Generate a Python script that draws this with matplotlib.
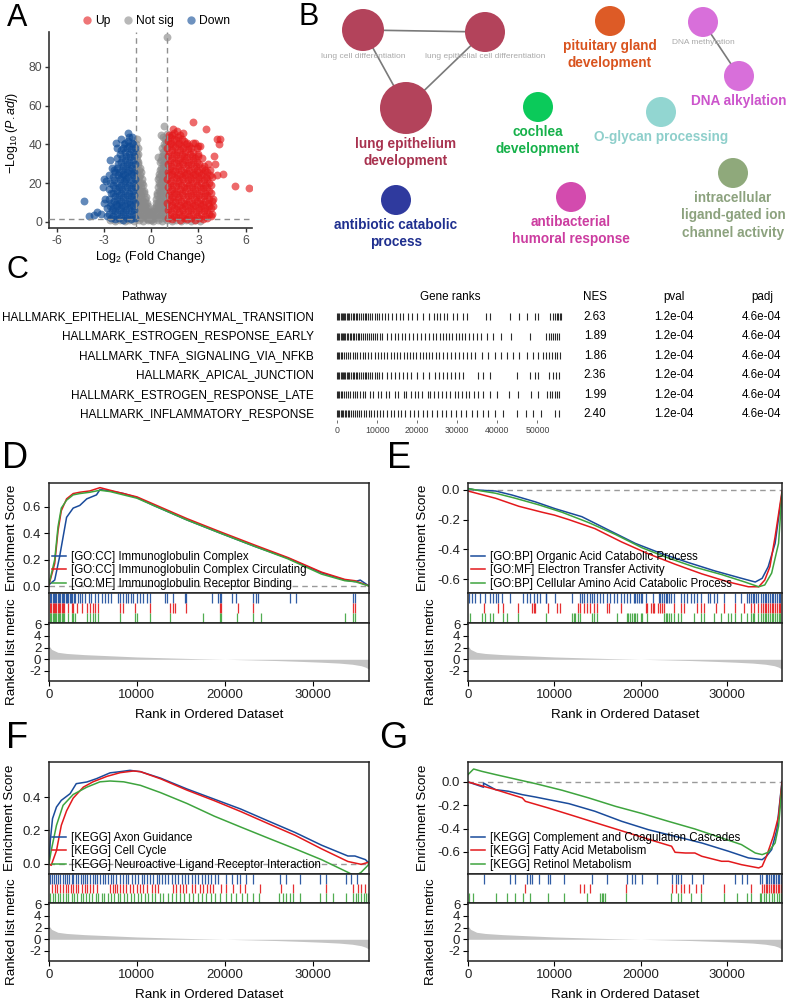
import numpy as np
import matplotlib.pyplot as plt
from matplotlib.patches import Circle
from matplotlib.lines import Line2D
from matplotlib.ticker import FuncFormatter, FormatStrFormatter

plt.rcParams['font.family'] = ['Liberation Sans', 'DejaVu Sans']
plt.rcParams['axes.unicode_minus'] = False
plt.rcParams['mathtext.fontset'] = 'custom'
plt.rcParams['mathtext.rm'] = 'Liberation Sans'
plt.rcParams['mathtext.it'] = 'Liberation Sans:italic'
plt.rcParams['mathtext.bf'] = 'Liberation Sans:bold'

# ---------------- A: volcano (log2FC, -log10 padj) ----------------
up_pts = [(1.05, 2), (1.08, 6), (1.03, 10), (1.1, 14), (1.05, 18), (1.02, 22), (1.07, 26), (1.04, 30), (1.09, 34), (1.03, 38), (1.06, 42), (1.1, 45),
          (1.3, 1.5), (1.27, 5), (1.33, 9), (1.29, 13), (1.32, 17), (1.26, 21), (1.31, 25), (1.28, 29), (1.34, 33), (1.3, 37), (1.25, 41), (1.33, 45), (1.4, 48),
          (1.55, 2.5), (1.58, 6.5), (1.52, 10.5), (1.57, 14.5), (1.54, 18.5), (1.59, 22.5), (1.53, 26.5), (1.56, 30.5), (1.6, 34.5), (1.52, 38.5), (1.57, 42.5), (1.62, 47),
          (1.8, 1), (1.77, 5), (1.83, 9), (1.79, 13), (1.84, 17), (1.76, 21), (1.81, 25), (1.78, 29), (1.85, 33), (1.8, 37), (1.75, 41), (1.82, 45),
          (2.05, 2), (2.02, 6), (2.08, 10), (2.04, 14), (2.07, 18), (2.01, 22), (2.06, 26), (2.03, 30), (2.09, 34), (2.02, 38), (2.05, 42), (2.0, 46),
          (2.3, 1.5), (2.33, 5.5), (2.27, 9.5), (2.32, 13.5), (2.28, 17.5), (2.34, 21.5), (2.29, 25.5), (2.31, 29.5), (2.26, 33.5), (2.33, 37.5), (2.3, 41),
          (2.55, 2), (2.52, 6), (2.58, 10), (2.54, 14), (2.57, 18), (2.51, 22), (2.56, 26), (2.53, 30), (2.59, 34), (2.52, 38), (2.62, 41), (2.65, 51.5),
          (2.8, 1), (2.83, 5), (2.77, 9), (2.82, 13), (2.78, 17), (2.84, 21), (2.79, 25), (2.81, 29), (2.76, 33), (2.88, 38), (2.95, 39), (2.8, 41),
          (3.05, 2), (3.02, 6), (3.08, 10), (3.04, 14), (3.07, 18), (3.01, 22), (3.06, 26), (3.03, 30), (3.0, 34), (3.1, 39), (3.2, 33),
          (3.3, 1.5), (3.33, 5.5), (3.27, 9.5), (3.32, 13.5), (3.28, 17.5), (3.34, 21.5), (3.29, 25.5), (3.35, 29),
          (3.55, 2), (3.52, 6), (3.58, 10), (3.54, 14), (3.57, 18), (3.51, 22), (3.56, 26), (3.6, 30),
          (3.8, 3), (3.78, 7), (3.83, 11), (3.79, 15), (3.82, 19), (3.85, 23), (3.75, 27),
          (4.0, 34), (4.05, 30), (4.2, 43), (4.35, 43), (4.3, 40), (4.55, 25), (4.2, 24), (5.35, 18.5), (6.2, 17.5),
          (3.9, 12), (3.95, 8), (3.85, 4), (3.5, 48),
          (1.17, 4), (1.15, 8), (1.19, 12), (1.16, 16), (1.18, 20), (1.14, 24), (1.2, 28), (1.17, 32), (1.15, 36), (1.19, 40), (1.16, 44),
          (1.42, 3), (1.44, 7), (1.4, 11), (1.43, 15), (1.41, 19), (1.45, 23), (1.39, 27), (1.42, 31), (1.44, 35), (1.4, 39), (1.43, 43), (1.46, 46),
          (1.67, 4), (1.65, 8), (1.69, 12), (1.66, 16), (1.68, 20), (1.64, 24), (1.7, 28), (1.67, 32), (1.65, 36), (1.69, 40), (1.7, 44),
          (1.92, 3), (1.94, 7), (1.9, 11), (1.93, 15), (1.91, 19), (1.95, 23), (1.89, 27), (1.92, 31), (1.94, 35), (1.9, 39), (1.93, 43),
          (2.17, 4), (2.15, 8), (2.19, 12), (2.16, 16), (2.18, 20), (2.14, 24), (2.2, 28), (2.17, 32), (2.15, 36), (2.19, 40),
          (2.42, 3), (2.44, 7), (2.4, 11), (2.43, 15), (2.41, 19), (2.45, 23), (2.39, 27), (2.42, 31), (2.44, 35), (2.4, 39),
          (2.67, 4), (2.65, 8), (2.69, 12), (2.66, 16), (2.68, 20), (2.64, 24), (2.7, 28), (2.67, 32), (2.65, 36),
          (2.92, 3), (2.94, 7), (2.9, 11), (2.93, 15), (2.91, 19), (2.95, 23), (2.89, 27), (2.92, 31), (2.94, 35),
          (3.17, 4), (3.15, 8), (3.19, 12), (3.16, 16), (3.18, 20), (3.14, 24), (3.2, 28),
          (3.42, 3), (3.44, 7), (3.4, 11), (3.43, 15), (3.41, 19), (3.45, 23), (3.42, 27),
          (3.67, 4), (3.65, 8), (3.69, 12), (3.66, 16), (3.68, 20), (3.7, 24)]

down_pts = [(-1.05, 2), (-1.08, 6), (-1.03, 10), (-1.1, 14), (-1.05, 18), (-1.02, 22), (-1.07, 26), (-1.04, 30), (-1.09, 34), (-1.05, 38),
            (-1.3, 1.5), (-1.27, 5.5), (-1.33, 9.5), (-1.29, 13.5), (-1.32, 17.5), (-1.26, 21.5), (-1.31, 25.5), (-1.28, 29.5), (-1.34, 33.5), (-1.3, 37.5), (-1.25, 41), (-1.4, 44),
            (-1.55, 2), (-1.58, 6), (-1.52, 10), (-1.57, 14), (-1.54, 18), (-1.59, 22), (-1.53, 26), (-1.56, 30), (-1.6, 34), (-1.52, 38), (-1.5, 46),
            (-1.8, 1), (-1.77, 5), (-1.83, 9), (-1.79, 13), (-1.84, 17), (-1.76, 21), (-1.81, 25), (-1.78, 29), (-1.85, 33), (-1.8, 38), (-1.9, 43),
            (-2.05, 2), (-2.02, 6), (-2.08, 10), (-2.04, 14), (-2.07, 18), (-2.01, 22), (-2.06, 26), (-2.1, 30), (-2.0, 35),
            (-2.3, 1.5), (-2.33, 5.5), (-2.27, 9.5), (-2.32, 13.5), (-2.28, 17.5), (-2.34, 21.5), (-2.29, 26), (-2.25, 41), (-2.2, 38),
            (-2.55, 2), (-2.52, 6), (-2.58, 10), (-2.54, 15), (-2.6, 20), (-2.5, 28), (-2.65, 32),
            (-2.8, 3), (-2.83, 7), (-2.9, 21), (-3.0, 22), (-2.95, 12), (-3.05, 18),
            (-4.3, 11), (-3.95, 3), (-3.45, 5), (-3.65, 3.5), (-3.0, 10), (-3.2, 4), (-2.7, 24), (-1.2, 44), (-1.75, 40),
            (-1.17, 4), (-1.15, 8), (-1.19, 12), (-1.16, 16), (-1.18, 20), (-1.14, 24), (-1.2, 28), (-1.17, 32), (-1.15, 36), (-1.19, 40),
            (-1.42, 3), (-1.44, 7), (-1.4, 11), (-1.43, 15), (-1.41, 19), (-1.45, 23), (-1.39, 27), (-1.42, 31), (-1.44, 35), (-1.4, 39), (-1.45, 42),
            (-1.67, 4), (-1.65, 8), (-1.69, 12), (-1.66, 16), (-1.68, 20), (-1.64, 24), (-1.7, 28), (-1.67, 32), (-1.65, 36), (-1.69, 41),
            (-1.92, 3), (-1.94, 7), (-1.9, 11), (-1.93, 15), (-1.91, 19), (-1.95, 23), (-1.89, 27), (-1.92, 31), (-1.94, 37),
            (-2.17, 4), (-2.15, 8), (-2.19, 12), (-2.16, 16), (-2.18, 20), (-2.14, 24), (-2.2, 28), (-2.17, 33),
            (-2.42, 3), (-2.44, 7), (-2.4, 11), (-2.43, 15), (-2.41, 19), (-2.45, 23), (-2.39, 27),
            (-2.67, 4), (-2.65, 8), (-2.69, 12), (-2.7, 17)]

ns_pts = [(-2.6, 0.8), (-2.3, 0.4), (-2.0, 1.0), (-1.7, 0.5), (-1.4, 0.9), (-1.1, 0.3), (-0.8, 0.8), (-0.5, 0.4), (-0.2, 0.9),
          (0.1, 0.4), (0.4, 0.8), (0.7, 0.3), (1.0, 0.9), (1.3, 0.4), (1.6, 0.8), (1.9, 0.3), (2.2, 0.9), (2.5, 0.5), (2.8, 0.8), (3.1, 0.4),
          (-0.95, 4), (-0.92, 8), (-0.97, 12), (-0.93, 16), (-0.96, 20), (-0.91, 24), (-0.95, 28), (-0.92, 32), (-0.97, 36), (-0.94, 40), (-0.9, 43),
          (-0.8, 3), (-0.78, 7), (-0.82, 11), (-0.79, 15), (-0.83, 19), (-0.77, 23), (-0.8, 27), (-0.84, 31), (-0.86, 35),
          (-0.65, 2), (-0.63, 6), (-0.67, 10), (-0.64, 14), (-0.66, 18), (-0.62, 22), (-0.68, 26),
          (-0.5, 3), (-0.48, 7), (-0.52, 11), (-0.49, 15), (-0.53, 19),
          (-0.35, 2), (-0.33, 6), (-0.37, 10), (-0.36, 13), (-0.2, 1.5), (-0.18, 5), (-0.22, 8),
          (-0.05, 1), (0.0, 3.5), (0.1, 2), (0.12, 5.5), (0.25, 2.5), (0.23, 6.5), (0.27, 10),
          (0.4, 2), (0.38, 6), (0.42, 10), (0.39, 14), (0.41, 18), (0.4, 22), (0.42, 33.7),
          (0.55, 3), (0.53, 7), (0.57, 11), (0.54, 15), (0.56, 19), (0.52, 23), (0.55, 27), (0.57, 31),
          (0.7, 2), (0.68, 6), (0.72, 10), (0.69, 14), (0.71, 18), (0.67, 22), (0.7, 26), (0.72, 30), (0.68, 34), (0.71, 38), (0.62, 45),
          (0.85, 3), (0.83, 7), (0.87, 11), (0.84, 15), (0.86, 19), (0.82, 23), (0.85, 27), (0.88, 31), (0.83, 35), (0.86, 39), (0.84, 43), (0.79, 49.6),
          (0.93, 6), (0.94, 14), (0.92, 22), (0.93, 34), (0.94, 42), (0.97, 45.5), (0.98, 95.5),
          (-0.88, 2), (-0.87, 6), (-0.89, 10), (-0.86, 14), (-0.88, 18), (-0.87, 22), (-0.89, 26), (-0.86, 30), (-0.88, 34), (-0.87, 38),
          (-0.72, 4), (-0.71, 8), (-0.73, 12), (-0.7, 16), (-0.72, 20), (-0.71, 24), (-0.74, 28),
          (-0.57, 4), (-0.58, 8), (-0.56, 12), (-0.59, 16), (-0.57, 20),
          (-0.42, 4), (-0.43, 8), (-0.41, 12), (-0.44, 16), (-0.27, 3), (-0.28, 7), (-0.26, 10),
          (-0.12, 2), (-0.13, 5), (0.03, 1.5), (0.05, 5), (0.18, 3), (0.19, 7),
          (0.32, 4), (0.33, 8), (0.31, 12), (0.34, 15), (0.47, 4), (0.48, 8), (0.46, 12), (0.49, 16), (0.47, 20), (0.48, 25),
          (0.62, 4), (0.63, 8), (0.61, 12), (0.64, 16), (0.62, 20), (0.63, 24), (0.61, 28), (0.64, 32),
          (0.77, 4), (0.78, 8), (0.76, 12), (0.79, 16), (0.77, 20), (0.78, 24), (0.76, 28), (0.79, 32), (0.77, 36), (0.78, 40), (0.76, 44),
          (0.9, 2), (0.91, 10), (0.9, 18), (0.91, 26), (0.9, 30), (0.91, 38)]

# ---------------- B: GO network ----------------
go_terms = ['lung cell differentiation', 'lung epithelial cell differentiation', 'lung epithelium\ndevelopment',
            'pituitary gland\ndevelopment', 'DNA methylation', 'DNA alkylation', 'cochlea\ndevelopment',
            'O-glycan processing', 'antibiotic catabolic\nprocess', 'antibacterial\nhumoral response',
            'intracellular\nligand-gated ion\nchannel activity']
go_x = [363, 485, 406, 610, 703, 739, 538, 661, 396, 571, 733]
go_y = [30, 32, 108, 21, 22, 76, 107, 112, 200, 197, 173]
go_r = [21, 20, 26, 15, 15, 15, 15, 15, 15, 15, 15]
go_main = [False, False, True, True, False, True, True, True, True, True, True]
go_edges = [(0, 1), (0, 2), (1, 2), (4, 5)]
go_node_col = ['#b3435b', '#b3435b', '#b3435b', '#dd5b26', '#d86fda', '#d86fda', '#0bca5a', '#92d6d1',
               '#2f3a9e', '#d34bae', '#8fa97b']
go_text_col = ['#a9a9a9', '#a9a9a9', '#a8324f', '#d9531e', '#a9a9a9', '#cc55cc', '#16b14a', '#8ecfcb',
               '#1f2f8f', '#cc3da0', '#8ca27e']

# ---------------- C: hallmark table ----------------
hallmark = ['HALLMARK_EPITHELIAL_MESENCHYMAL_TRANSITION', 'HALLMARK_ESTROGEN_RESPONSE_EARLY',
            'HALLMARK_TNFA_SIGNALING_VIA_NFKB', 'HALLMARK_APICAL_JUNCTION',
            'HALLMARK_ESTROGEN_RESPONSE_LATE', 'HALLMARK_INFLAMMATORY_RESPONSE']
nes = [2.63, 1.89, 1.86, 2.36, 1.99, 2.40]
pval = [1.2e-04] * 6
padj = [4.6e-04] * 6
# gene positions in ranked list (thousands)
ranks_emt = [0.05, 0.3, 0.6, 0.9, 1.2, 1.5, 1.8, 2.1, 2.4, 2.8, 3.1, 3.5, 3.9, 4.3, 4.7, 5.1, 5.5, 6.0, 6.4, 6.9, 7.3, 7.8,
             8.3, 8.8, 9.4, 10.0, 10.6, 11.2, 12.0, 12.8, 13.7, 14.6, 15.6, 16.5, 17.6, 18.8, 20.0, 21.5, 23.0,
             24.2, 25.0, 25.8, 26.7, 27.5, 29.0, 30.0, 31.5, 32.5, 37.3, 38.2, 43.2, 45.3, 47.3, 49.3, 50.2,
             53.2, 53.8, 54.3, 54.8, 55.2, 55.6, 56.0]
ranks_er_early = [0.05, 0.3, 0.6, 0.9, 1.2, 1.5, 1.8, 2.1, 2.5, 2.8, 3.2, 3.5, 3.9, 4.3, 4.8, 5.2, 5.6, 6.1, 6.5, 7.0, 7.4,
                  7.9, 8.4, 8.9, 9.5, 10.1, 10.7, 11.3, 12.5, 13.5, 14.5, 15.3, 16.2, 17.0, 18.0, 19.0, 20.0, 21.0,
                  22.0, 23.0, 24.0, 24.8, 25.6, 26.4, 27.2, 28.0, 28.8, 29.6, 30.4, 31.2, 32.0, 33.0, 34.0, 35.0,
                  36.0, 37.5, 39.0, 41.0, 43.3, 48.2, 52.2, 52.8, 53.4, 54.0, 54.5, 55.0, 55.5]
ranks_tnfa = [0.05, 0.3, 0.6, 0.9, 1.3, 1.7, 2.2, 2.7, 3.3, 3.9, 4.5, 5.1, 5.7, 6.4, 7.0, 7.8, 8.6, 9.4, 10.2, 11.0,
              11.8, 12.6, 13.4, 14.2, 15.0, 15.8, 16.6, 17.4, 18.2, 19.0, 19.8, 20.6, 21.4, 22.2, 23.0, 23.8, 24.6,
              25.4, 26.5, 27.5, 28.5, 29.5, 30.5, 31.5, 32.5, 33.5, 34.5, 36.3, 37.8, 39.5, 41.0, 42.5, 44.0, 45.5,
              47.5, 49.0, 50.2, 51.5, 52.2, 52.9, 53.6, 54.3, 55.0, 55.6]
ranks_apical = [0.05, 0.3, 0.6, 0.9, 1.2, 1.5, 1.8, 2.1, 2.4, 2.8, 3.1, 3.5, 3.9, 4.3, 4.7, 5.1, 5.5, 6.0, 6.4, 6.9, 7.3,
                7.8, 8.3, 8.8, 9.4, 10.0, 10.6, 11.2, 12.5, 13.5, 14.5, 15.5, 16.5, 17.5, 18.5, 20.0, 21.5, 23.0,
                24.5, 25.5, 26.5, 27.5, 28.5, 29.5, 30.5, 31.5, 35.2, 36.5, 38.3, 45.0, 48.2, 49.3, 50.2, 53.0,
                53.8, 54.6, 55.4]
ranks_er_late = [0.05, 0.3, 0.6, 0.9, 1.3, 1.7, 2.2, 2.7, 3.3, 3.9, 4.5, 5.1, 5.7, 6.4, 7.0, 8.2, 9.1, 10.3, 11.0, 12.2,
                 13.1, 14.4, 15.2, 16.6, 17.3, 18.5, 19.4, 20.2, 21.3, 22.6, 23.3, 24.1, 25.2, 26.3, 27.1, 28.2, 29.4,
                 30.1, 31.2, 32.3, 33.0, 34.2, 35.1, 36.4, 38.2, 40.0, 43.0, 45.1, 48.3, 50.1, 52.5, 53.1, 53.7,
                 54.3, 54.9, 55.5]
ranks_inflam = [0.05, 0.3, 0.6, 0.9, 1.2, 1.5, 1.9, 2.3, 2.7, 3.1, 3.5, 4.0, 4.5, 5.0, 5.5, 6.1, 6.7, 7.3, 7.9, 8.6,
                9.3, 10.0, 10.8, 11.6, 12.5, 13.4, 14.3, 15.1, 16.0, 17.0, 18.1, 19.2, 20.3, 21.4, 22.5, 23.7, 24.9,
                26.1, 27.3, 28.5, 29.8, 31.0, 32.3, 33.6, 35.0, 36.4, 37.8, 39.4, 41.5, 45.0, 47.2, 49.0, 51.0,
                54.5, 55.3]
hallmark_ranks = [ranks_emt, ranks_er_early, ranks_tnfa, ranks_apical, ranks_er_late, ranks_inflam]

# ---------------- D-G: GSEA (rank in thousands) ----------------
metric_rank = [0, 0.3, 1, 2, 4, 7, 10, 14, 17, 20, 23, 26, 29, 31, 33, 34.5, 35.5, 36.0, 36.4]
metric_val = [2.3, 1.7, 1.2, 1.0, 0.8, 0.6, 0.4, 0.22, 0.1, 0.0, -0.1, -0.22, -0.38, -0.5, -0.65, -0.85, -1.1, -1.35, -1.7]

d_names = ['[GO:CC] Immunoglobulin Complex', '[GO:CC] Immunoglobulin Complex Circulating',
           '[GO:MF] Immunoglobulin Receptor Binding']
d_blue_x = [0, 0.65, 1.2, 1.6, 2.0, 2.75, 3.5, 4.3, 5.4, 5.8, 6.95, 8.5, 10.0, 11.9, 15.7, 19.5, 23.4, 27.2, 31.0, 33.65, 34.8, 35.4, 36.4]
d_blue_y = [0.01, 0.045, 0.22, 0.37, 0.52, 0.59, 0.61, 0.66, 0.69, 0.73, 0.72, 0.70, 0.67, 0.61, 0.50, 0.40, 0.30, 0.21, 0.10, 0.045, 0.033, 0.045, 0.0]
d_red_x = [0, 0.65, 1.03, 1.4, 2.0, 2.75, 3.5, 4.65, 5.8, 6.95, 10.0, 15.7, 19.5, 23.4, 27.2, 31.0, 33.65, 34.8, 36.4]
d_red_y = [0.01, 0.17, 0.42, 0.57, 0.66, 0.70, 0.71, 0.72, 0.745, 0.725, 0.675, 0.51, 0.41, 0.31, 0.215, 0.105, 0.05, 0.04, 0.0]
d_green_x = [0, 0.65, 1.03, 1.4, 2.0, 2.75, 3.5, 4.65, 5.8, 6.95, 10.0, 15.7, 19.5, 23.4, 27.2, 31.0, 33.65, 34.8, 36.4]
d_green_y = [0.015, 0.2, 0.45, 0.59, 0.65, 0.69, 0.70, 0.71, 0.725, 0.715, 0.665, 0.50, 0.40, 0.30, 0.205, 0.09, 0.04, 0.033, 0.0]
d_hits_blue = [0.1, 0.25, 0.4, 0.55, 0.7, 0.85, 1.0, 1.15, 1.3, 1.45, 1.6, 1.75, 1.9, 2.05, 2.2, 2.35, 2.5, 2.65, 2.8, 2.95,
               3.3, 3.5, 3.8, 4.1, 4.5, 4.8, 5.2, 5.6, 6.0, 6.4, 6.7, 7.1, 7.9, 8.1, 8.4, 8.75, 9.0, 9.3, 9.6, 10.0,
               10.3, 10.7, 11.1, 11.5, 13.2, 13.4, 14.1, 15.5, 15.6, 18.5, 19.2, 19.4, 19.6, 20.8, 21.3, 23.2, 23.6,
               23.8, 27.4, 28.1, 34.6, 34.8]
d_hits_red = [0.1, 0.25, 0.4, 0.55, 0.7, 0.85, 1.0, 1.15, 1.3, 1.45, 1.6, 1.75, 2.2, 2.58, 2.77, 3.14, 3.71, 4.28, 4.66,
              4.96, 5.23, 5.6, 8.07, 8.45, 9.77, 11.48, 13.75, 14.13, 14.32, 15.64, 19.43, 19.62, 21.5, 23.2, 34.6, 34.8]
d_hits_green = [0.1, 0.25, 0.4, 0.55, 0.7, 0.85, 1.0, 1.15, 1.3, 1.45, 1.6, 1.75, 2.2, 2.58, 2.77, 2.96, 4.28, 4.66,
                5.04, 5.23, 5.6, 8.07, 9.77, 9.96, 11.48, 13.75, 17.54, 19.43, 19.62, 21.33, 23.22, 24.17, 33.64, 34.6, 34.8]

e_names = ['[GO:BP] Organic Acid Catabolic Process', '[GO:MF] Electron Transfer Activity',
           '[GO:BP] Cellular Amino Acid Catabolic Process']
e_blue_x = [0, 0.85, 3.2, 5.1, 7.8, 10.1, 13.2, 16.3, 19.4, 22.5, 25.6, 28.6, 31.7, 33.3, 34.1, 34.8, 35.6, 36.4]
e_blue_y = [0.01, 0.0, -0.007, -0.034, -0.08, -0.126, -0.18, -0.27, -0.36, -0.43, -0.49, -0.545, -0.595, -0.62, -0.595, -0.517, -0.36, -0.02]
e_red_x = [0, 3.2, 5.9, 8.6, 10.0, 11.7, 14.7, 17.8, 20.9, 24.0, 27.1, 30.2, 32.5, 33.7, 34.4, 35.0, 35.6, 36.4]
e_red_y = [-0.007, -0.056, -0.11, -0.15, -0.169, -0.2, -0.26, -0.35, -0.43, -0.50, -0.565, -0.62, -0.652, -0.652, -0.607, -0.517, -0.315, -0.01]
e_green_x = [0, 1.6, 3.2, 5.5, 8.2, 10.9, 14.0, 17.1, 20.2, 23.3, 26.3, 29.4, 32.1, 33.7, 34.4, 35.2, 36.0, 36.4]
e_green_y = [0.01, -0.007, -0.022, -0.056, -0.10, -0.15, -0.22, -0.30, -0.39, -0.46, -0.52, -0.57, -0.62, -0.652, -0.64, -0.56, -0.36, -0.02]
e_hits_blue = [0.16, 0.43, 0.81, 1.4, 2.0, 2.6, 2.9, 3.3, 3.5, 3.9, 4.9, 6.4, 6.8, 7.2, 7.6, 8.0, 8.4, 9.0, 9.1, 10.1,
               12.1, 13.0, 13.2, 13.4, 13.8, 14.2, 14.4, 14.6, 15.0, 15.3, 15.7, 16.1, 16.5, 16.9, 17.3, 17.7, 18.1,
               18.4, 18.8, 19.2, 19.4, 19.6, 19.8, 20.0, 20.2, 20.6, 21.4, 22.1, 22.3, 22.5, 22.7, 22.9, 23.1, 23.3,
               23.5, 23.9, 24.7, 25.0, 25.4, 25.8, 26.2, 26.6, 27.0, 27.8, 28.1, 28.5, 28.9, 29.7, 30.9, 31.6, 32.4,
               32.6, 32.8, 33.0, 33.2, 33.4, 33.6, 34.0, 34.2, 34.4, 34.6, 34.8, 35.0, 35.2, 35.4, 35.6, 35.8, 36.0,
               36.2, 36.35]
e_hits_red = [1.8, 3.5, 4.1, 5.8, 7.4, 7.6, 7.8, 9.3, 10.3, 10.7, 12.8, 13.0, 13.4, 13.8, 14.2, 14.6, 15.0, 16.1, 16.3,
              17.7, 20.6, 20.8, 21.2, 21.4, 21.6, 22.0, 22.3, 22.5, 22.7, 23.9, 24.7, 25.0, 26.6, 27.0, 27.4, 28.7,
              29.7, 30.9, 32.0, 32.8, 33.2, 33.6, 34.0, 34.2, 34.4, 34.6, 34.8, 35.0, 35.2, 35.4, 35.6, 35.8, 36.0,
              36.2, 36.35]
e_hits_green = [0.23, 1.6, 2.0, 2.6, 2.9, 4.1, 4.5, 5.8, 9.0, 12.1, 12.3, 12.4, 12.8, 13.0, 14.4, 14.6, 15.0, 17.3, 18.4,
                18.6, 18.8, 19.0, 19.2, 19.4, 19.6, 20.0, 20.2, 20.8, 22.7, 22.9, 23.1, 23.3, 23.5, 23.9, 24.3, 24.7,
                26.2, 27.0, 27.4, 28.5, 29.3, 30.1, 30.5, 30.9, 31.6, 32.4, 32.8, 33.0, 33.2, 33.6, 34.0, 34.2, 34.4,
                34.6, 34.8, 35.0, 35.2, 35.4, 35.6, 35.8, 36.0, 36.2, 36.35]

f_names = ['[KEGG] Axon Guidance', '[KEGG] Cell Cycle', '[KEGG] Neuroactive Ligand Receptor Interaction']
f_blue_x = [0, 0.15, 0.4, 0.85, 1.4, 2.4, 3.1, 4.3, 5.4, 6.95, 8.1, 9.2, 10.4, 12.7, 15.7, 18.8, 21.8, 24.9, 28.0, 31.0, 34.0, 34.8, 36.0, 36.4]
f_blue_y = [0.0, 0.14, 0.27, 0.34, 0.38, 0.42, 0.48, 0.49, 0.51, 0.545, 0.552, 0.56, 0.552, 0.513, 0.448, 0.387, 0.328, 0.257, 0.187, 0.111, 0.046, 0.046, 0.024, 0.002]
f_red_x = [0, 0.25, 0.85, 1.4, 2.0, 2.75, 3.9, 5.0, 6.6, 8.1, 9.6, 10.4, 12.7, 15.7, 18.8, 21.8, 24.9, 28.0, 31.0, 34.0, 35.5, 36.4]
f_red_y = [0.0, -0.01, 0.078, 0.23, 0.317, 0.393, 0.459, 0.491, 0.524, 0.546, 0.556, 0.552, 0.509, 0.441, 0.378, 0.313, 0.241, 0.17, 0.089, 0.013, -0.004, 0.009]
f_green_x = [0, 0.25, 0.85, 1.6, 2.75, 4.3, 5.8, 6.95, 8.5, 10.4, 12.7, 15.7, 18.8, 21.8, 24.9, 28.0, 31.0, 34.0, 34.8, 35.5, 36.3, 36.4]
f_green_y = [0.0, 0.078, 0.23, 0.35, 0.415, 0.459, 0.491, 0.496, 0.491, 0.47, 0.426, 0.361, 0.285, 0.22, 0.154, 0.089, 0.024, -0.052, -0.074, -0.052, -0.009, 0.009]
f_hits_blue = [0.11, 0.3, 0.57, 0.8, 1.06, 1.25, 1.55, 1.82, 2.08, 2.31, 2.58, 2.77, 3.07, 3.33, 3.6, 3.83, 4.09, 4.36,
               4.66, 4.96, 5.23, 5.49, 5.8, 6.1, 6.36, 6.74, 7.0, 7.31, 7.61, 8.07, 8.45, 8.75, 9.02, 9.39, 9.77,
               10.15, 10.53, 10.8, 11.1, 11.48, 11.86, 12.23, 12.54, 12.8, 13.18, 13.56, 13.94, 14.32, 14.7, 15.08,
               15.45, 15.83, 16.21, 16.59, 16.97, 17.35, 17.73, 18.1, 18.48, 18.86, 19.24, 20.19, 20.76, 21.33,
               21.7, 22.46, 23.22, 26.25, 27.0, 28.5, 30.8, 31.55, 33.8, 34.4, 35.0]
f_hits_red = [0.3, 0.68, 0.95, 1.25, 1.63, 1.93, 2.2, 2.46, 2.77, 3.07, 3.33, 3.71, 4.09, 4.36, 4.66, 5.04, 5.42, 6.93,
              7.23, 7.5, 7.77, 8.07, 8.45, 8.75, 9.2, 9.58, 9.96, 10.34, 10.72, 11.1, 11.67, 12.05, 12.42, 14.13, 14.5,
              14.89, 15.27, 15.64, 16.21, 16.59, 17.16, 17.54, 17.92, 18.3, 18.67, 19.62, 20.19, 20.95, 21.7, 22.27,
              23.98, 26.44, 27.77, 31.55, 34.58, 35.15, 35.53, 35.9]
f_hits_green = [0.1, 0.4, 0.7, 1.0, 1.3, 1.6, 1.9, 2.2, 2.6, 2.9, 3.2, 3.6, 3.9, 4.2, 4.6, 4.9, 5.3, 5.6, 6.0, 6.3, 6.7,
                7.0, 7.4, 7.8, 8.1, 8.5, 8.9, 9.3, 9.7, 10.1, 10.5, 10.9, 11.3, 11.7, 12.1, 12.6, 13.0, 13.5, 14.0,
                14.4, 14.9, 15.4, 15.9, 16.4, 16.9, 17.4, 17.9, 18.4, 18.9, 19.5, 20.1, 20.7, 21.3, 21.9, 22.5, 23.2,
                23.9, 26.2, 26.6, 27.0, 27.4, 27.8, 28.5, 30.8, 31.5, 32.3, 33.8, 34.6, 34.9, 35.2, 35.5, 35.8,
                36.1, 36.3]

g_names = ['[KEGG] Complement and Coagulation Cascades', '[KEGG] Fatty Acid Metabolism', '[KEGG] Retinol Metabolism']
g_blue_x = [0, 1.8, 1.8, 3.2, 4.7, 6.3, 7.8, 9.3, 11.7, 14.7, 17.8, 20.9, 24.0, 27.1, 30.2, 32.5, 34.1, 34.6, 35.2, 35.8, 36.4]
g_blue_y = [0.0, -0.045, -0.01, -0.066, -0.08, -0.109, -0.129, -0.151, -0.186, -0.251, -0.337, -0.409, -0.466, -0.523, -0.594, -0.651, -0.666, -0.637, -0.58, -0.409, 0.006]
g_red_x = [0, 3.2, 6.3, 6.65, 9.3, 12.4, 15.5, 18.6, 21.7, 23.6, 24.0, 25.2, 26.3, 27.1, 29.4, 30.2, 31.7, 33.7, 34.1, 34.6, 35.4, 36.0, 36.4]
g_red_y = [0.0, -0.066, -0.137, -0.166, -0.223, -0.294, -0.366, -0.437, -0.509, -0.551, -0.603, -0.609, -0.609, -0.637, -0.68, -0.68, -0.709, -0.737, -0.723, -0.637, -0.466, -0.294, -0.003]
g_green_x = [0, 0.65, 1.6, 3.2, 6.3, 7.8, 10.9, 14.0, 17.1, 20.2, 23.2, 26.3, 29.4, 31.7, 33.3, 34.1, 34.8, 35.6, 36.0, 36.4]
g_green_y = [0.063, 0.111, 0.091, 0.063, 0.011, -0.014, -0.071, -0.137, -0.209, -0.271, -0.337, -0.403, -0.48, -0.537, -0.609, -0.623, -0.603, -0.523, -0.38, -0.037]
g_hits_blue = [1.8, 4.9, 5.5, 6.8, 7.2, 7.4, 8.2, 9.3, 9.5, 11.1, 14.4, 16.1, 18.4, 19.0, 19.4, 20.2, 21.9, 23.7, 24.1,
               24.3, 24.7, 26.0, 27.2, 30.9, 31.8, 32.4, 33.8, 34.1, 34.5, 34.7, 34.9, 35.1, 35.3, 35.5, 35.7, 35.9,
               36.1, 36.3]
g_hits_red = [6.6, 13.0, 13.4, 14.2, 18.3, 23.7, 24.1, 24.7, 25.0, 25.6, 26.4, 27.0, 29.7, 32.8, 34.1, 34.3, 34.5,
              34.7, 34.9, 35.1, 35.3, 35.5, 35.7, 35.9, 36.1, 36.3]
g_hits_green = [0.15, 0.6, 3.3, 4.5, 5.5, 6.4, 7.2, 9.3, 11.1, 13.8, 15.3, 15.5, 15.7, 15.9, 18.3, 23.5, 24.3, 24.7,
                25.8, 27.0, 29.7, 31.2, 32.4, 32.8, 33.8, 34.0, 34.3, 34.6, 34.9, 35.2, 35.5, 35.8, 36.1, 36.3]

gsea_colors = ['#1a4b9b', '#e3191c', '#3ea43e']

# ---------------- layout helpers (pixel boxes on a 789x1001 canvas) ----------------
W, H = 789, 1001
fig = plt.figure(figsize=(W / 100, H / 100), dpi=100)
fig.patch.set_facecolor('white')


def add_ax(x0, y0, x1, y1):
    return fig.add_axes([x0 / W, 1 - y1 / H, (x1 - x0) / W, (y1 - y0) / H])


def ftext(x, y, s, **kw):
    return fig.text(x / W, 1 - y / H, s, **kw)


# ---- panel letters
for lab, x, y, fs in [('A', 17, 18, 22), ('B', 309, 17, 22), ('C', 17, 270, 22),
                      ('D', 15, 458, 26), ('E', 399, 458, 26), ('F', 17, 739, 26), ('G', 393, 739, 26)]:
    ftext(x, y, lab, fontsize=fs, ha='center', va='center')

# ---- A
ax = add_ax(49, 32, 252, 228)
for pts, col in [(ns_pts, '#8a8a8a'), (down_pts, '#0e4a95'), (up_pts, '#e41a1c')]:
    xs, ys = zip(*pts)
    ax.scatter(xs, ys, s=32, c=col, alpha=0.65, lw=0, zorder=2)
for v in (-1, 1):
    ax.axvline(v, color='#909090', ls=(0, (4, 3)), lw=1.0, zorder=3)
ax.axhline(-np.log10(0.05), color='#909090', ls=(0, (4, 3)), lw=1.0, zorder=3)
ax.set_xlim(-6.5, 6.4)
ax.set_ylim(-3.1, 98)
ax.set_xticks([-6, -3, 0, 3, 6])
ax.set_yticks([0, 20, 40, 60, 80])
for s in ('top', 'right'):
    ax.spines[s].set_visible(False)
for s in ('left', 'bottom'):
    ax.spines[s].set_linewidth(1.2)
    ax.spines[s].set_color('#333333')
ax.tick_params(labelsize=8.7, length=3, width=1, color='#333333', labelcolor='#4d4d4d', pad=2)
ftext(150, 257, r'Log$_2$ (Fold Change)', ha='center', va='center', fontsize=9)
ftext(12, 133, r'$-$Log$_{10}$ ($\it{P.adj}$)', ha='center', va='center', fontsize=9, rotation=90)
handles = [Line2D([], [], ls='', marker='o', ms=6, mew=0, color=c, alpha=0.6)
           for c in ('#e41a1c', '#8a8a8a', '#0e4a95')]
fig.legend(handles, ['Up', 'Not sig', 'Down'], loc='center', bbox_to_anchor=(155 / W, 1 - 21 / H),
           ncol=3, frameon=False, fontsize=8.7, handletextpad=0.1, columnspacing=0.8, handlelength=1.2)

# ---- B
axb = add_ax(270, 0, 789, 260)
axb.set_xlim(270, 789)
axb.set_ylim(260, 0)
axb.axis('off')
for i, j in go_edges:
    axb.plot([go_x[i], go_x[j]], [go_y[i], go_y[j]], color='#7a7a7a', lw=1.2, zorder=1)
for name, x, y, r, main, nc, tc in zip(go_terms, go_x, go_y, go_r, go_main, go_node_col, go_text_col):
    axb.add_patch(Circle((x, y), r, color=nc, lw=0, zorder=2))
    if main:
        axb.text(x, y + r + 3, name, ha='center', va='top', fontsize=9.8, fontweight='bold',
                 color=tc, linespacing=1.3, zorder=3)
    else:
        axb.text(x, y + r + 1.5, name, ha='center', va='top', fontsize=6, color=tc, zorder=3)

# ---- C
row_y = [317 + i * 19.4 for i in range(6)]
ftext(144, 297, 'Pathway', ha='center', va='center', fontsize=8.4)
ftext(450, 297, 'Gene ranks', ha='center', va='center', fontsize=8.4)
ftext(595, 297, 'NES', ha='center', va='center', fontsize=8.4)
ftext(674, 297, 'pval', ha='center', va='center', fontsize=8.4)
ftext(762, 297, 'padj', ha='center', va='center', fontsize=8.4)
for y, name, n, p, q in zip(row_y, hallmark, nes, pval, padj):
    ftext(314, y, name, ha='right', va='center', fontsize=8.45)
    ftext(595, y, f'{n:.2f}', ha='center', va='center', fontsize=8.4)
    ftext(674, y, f'{p:.1e}', ha='center', va='center', fontsize=8.4)
    ftext(762, y, f'{q:.1e}', ha='center', va='center', fontsize=8.4)
axc = add_ax(333, 307, 565, 420)
for i, rk in enumerate(hallmark_ranks):
    axc.vlines(rk, i - 0.18, i + 0.18, color='#2a2a2a', lw=0.8)
axc.set_xlim(-1.0, 56.9)
axc.set_ylim(5.31, -0.515)
for s in axc.spines.values():
    s.set_visible(False)
axc.set_yticks([])
axc.set_xticks([0, 10, 20, 30, 40, 50])
axc.xaxis.set_major_formatter(FuncFormatter(lambda v, p: f'{int(round(v * 1000))}'))
axc.tick_params(labelsize=6.3, length=2.5, width=0.6, color='#555555', labelcolor='#444444', pad=1.5)


# ---- D-G
def gsea_panel(x0, x1, top, es_bot, rug_bot, bot, es_lim, es_ticks, curves, hits, names, lab_dx):
    ax1 = add_ax(x0, top, x1, es_bot)
    ax2 = add_ax(x0, es_bot, x1, rug_bot)
    ax3 = add_ax(x0, rug_bot, x1, bot)
    for (cx, cy), col, nm in zip(curves, gsea_colors, names):
        ax1.plot(cx, cy, color=col, lw=1.1, label=nm)
    ax1.axhline(0, color='#9a9a9a', ls=(0, (4, 3)), lw=1.0, zorder=0)
    ax1.set_ylim(*es_lim)
    ax1.set_yticks(es_ticks)
    ax1.yaxis.set_major_formatter(FormatStrFormatter('%.1f'))
    ax1.set_xticks([])
    ax1.legend(loc='lower left', frameon=False, fontsize=8.3, handlelength=1.2, handletextpad=0.4,
               labelspacing=0.12, borderaxespad=0.1, borderpad=0.2)
    for k, (h, col) in enumerate(zip(hits, gsea_colors)):
        ax2.vlines(h, 2 - k, 3 - k, color=col, lw=0.9, alpha=0.9)
    ax2.set_ylim(0, 3)
    ax2.set_xticks([])
    ax2.set_yticks([])
    ax3.fill_between(metric_rank, metric_val, 0, color='#c4c4c4', lw=0)
    ax3.set_ylim(-3.72, 6.22)
    ax3.set_yticks([6, 4, 2, 0, -2])
    ax3.set_xticks([0, 10, 20, 30])
    ax3.xaxis.set_major_formatter(FuncFormatter(lambda v, p: f'{int(round(v * 1000))}'))
    for a in (ax1, ax2, ax3):
        a.set_xlim(0, 36.4)
        for s in a.spines.values():
            s.set_linewidth(1.1)
            s.set_color('#222222')
        a.tick_params(labelsize=9.5, length=3.5, width=0.8, labelcolor='#222222', pad=2)
    cx = (x0 + x1) / 2
    ftext(cx, bot + 34, 'Rank in Ordered Dataset', ha='center', va='center', fontsize=9.6)
    ftext(x0 - lab_dx, (top + es_bot) / 2, 'Enrichment Score', ha='center', va='center',
          fontsize=9.6, rotation=90)
    ftext(x0 - 37, (rug_bot + bot) / 2, 'Ranked list metric', ha='center', va='center',
          fontsize=9.6, rotation=90)


gsea_panel(49, 369, 483, 593, 623, 681, (-0.053, 0.78), [0, 0.2, 0.4, 0.6],
           [(d_blue_x, d_blue_y), (d_red_x, d_red_y), (d_green_x, d_green_y)],
           [d_hits_blue, d_hits_red, d_hits_green], d_names, 37)
gsea_panel(468, 782, 483, 593, 623, 681, (-0.694, 0.047), [-0.6, -0.4, -0.2, 0.0],
           [(e_blue_x, e_blue_y), (e_red_x, e_red_y), (e_green_x, e_green_y)],
           [e_hits_blue, e_hits_red, e_hits_green], e_names, 45)
gsea_panel(49, 369, 762, 874, 903, 961, (-0.062, 0.61), [0, 0.2, 0.4],
           [(f_blue_x, f_blue_y), (f_red_x, f_red_y), (f_green_x, f_green_y)],
           [f_hits_blue, f_hits_red, f_hits_green], f_names, 39)
gsea_panel(468, 782, 762, 874, 903, 961, (-0.789, 0.171), [-0.6, -0.4, -0.2, 0.0],
           [(g_blue_x, g_blue_y), (g_red_x, g_red_y), (g_green_x, g_green_y)],
           [g_hits_blue, g_hits_red, g_hits_green], g_names, 45)

fig.savefig('out.png', dpi=100, facecolor='white')
